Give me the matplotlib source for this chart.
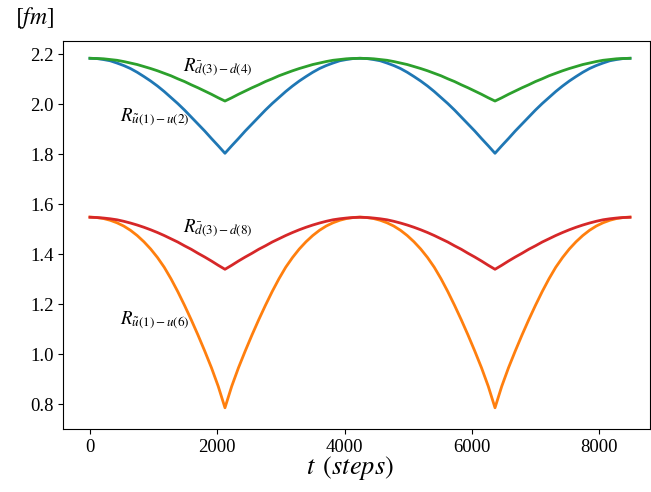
import matplotlib
matplotlib.use("Agg")
import matplotlib.pyplot as plt

plt.rcParams['mathtext.fontset'] = 'stix'
plt.rcParams['font.family'] = ['Liberation Serif', 'DejaVu Serif']

# time steps
t_steps = [0, 106, 212, 318, 424, 530, 636, 742, 848, 954, 1061, 1167, 1273, 1379, 1485,
           1591, 1697, 1803, 1909, 2015, 2121,
           2227, 2333, 2439, 2545, 2651, 2757, 2863, 2969, 3075, 3182, 3288, 3394, 3500,
           3606, 3712, 3818, 3924, 4030, 4136, 4242,
           4348, 4454, 4560, 4666, 4772, 4878, 4984, 5090, 5196, 5303, 5409, 5515, 5621,
           5727, 5833, 5939, 6045, 6151, 6257, 6363,
           6469, 6575, 6681, 6787, 6893, 6999, 7105, 7211, 7317, 7424, 7530, 7636, 7742,
           7848, 7954, 8060, 8166, 8272, 8378, 8484]

# values over the first half period (t = 0 .. 2121); the curves repeat mirror-wise
half_u1_u2 = [2.183, 2.182, 2.178, 2.173, 2.164, 2.154, 2.142, 2.127, 2.110, 2.092, 2.072,
              2.050, 2.026, 2.002, 1.976, 1.948, 1.920, 1.892, 1.862, 1.833, 1.803]
half_u1_u6 = [1.548, 1.546, 1.542, 1.535, 1.525, 1.512, 1.495, 1.474, 1.449, 1.420, 1.386,
              1.347, 1.301, 1.250, 1.195, 1.137, 1.076, 1.012, 0.945, 0.871, 0.785]
half_d3_d4 = [2.183, 2.182, 2.181, 2.178, 2.175, 2.170, 2.164, 2.158, 2.150, 2.142, 2.133,
              2.123, 2.113, 2.101, 2.090, 2.077, 2.065, 2.052, 2.039, 2.025, 2.012]
half_d3_d8 = [1.547, 1.546, 1.544, 1.541, 1.537, 1.531, 1.524, 1.516, 1.507, 1.497, 1.486,
              1.474, 1.461, 1.448, 1.433, 1.419, 1.403, 1.388, 1.372, 1.355, 1.339]


def full(h):
    back = h[::-1][1:]
    return h + back + h[1:] + back


r_u1_u2 = full(half_u1_u2)
r_u1_u6 = full(half_u1_u6)
r_d3_d4 = full(half_d3_d4)
r_d3_d8 = full(half_d3_d8)

series_labels = [r'$R_{\tilde{u}(1)-u(2)}$', r'$R_{\tilde{u}(1)-u(6)}$',
                 r'$R_{\bar{d}(3)-d(4)}$', r'$R_{\bar{d}(3)-d(8)}$']
label_pos = [(471, 1.948), (471, 1.136), (1461, 2.148), (1461, 1.504)]
colors = ['#1f77b4', '#ff7f0e', '#2ca02c', '#d62728']

fig = plt.figure(figsize=(6.51, 4.92), dpi=100)
ax = fig.add_axes([0.0972, 0.128, 0.9005, 0.7886])

for ys, c in zip([r_u1_u2, r_u1_u6, r_d3_d4, r_d3_d8], colors):
    ax.plot(t_steps, ys, color=c, lw=2)

for lab, (tx, ty) in zip(series_labels, label_pos):
    ax.text(tx, ty, lab, fontsize=13.5, ha='left', va='center')

ax.set_xlim(-419, 8790)
ax.set_ylim(0.70, 2.252)
ax.set_xticks([0, 2000, 4000, 6000, 8000])
ax.set_yticks([0.8, 1.0, 1.2, 1.4, 1.6, 1.8, 2.0, 2.2])
ax.set_yticklabels(['0.8', '1.0', '1.2', '1.4', '1.6', '1.8', '2.0', '2.2'])
ax.tick_params(labelsize=13.5)
ax.set_xlabel(r'$t\ \,(steps)$', fontsize=19, labelpad=0)
ax.xaxis.set_label_coords(0.489, -0.065)
fig.text(0.023, 0.963, r'$[fm]$', fontsize=17, ha='left', va='center')

fig.savefig('out.png', dpi=100)
